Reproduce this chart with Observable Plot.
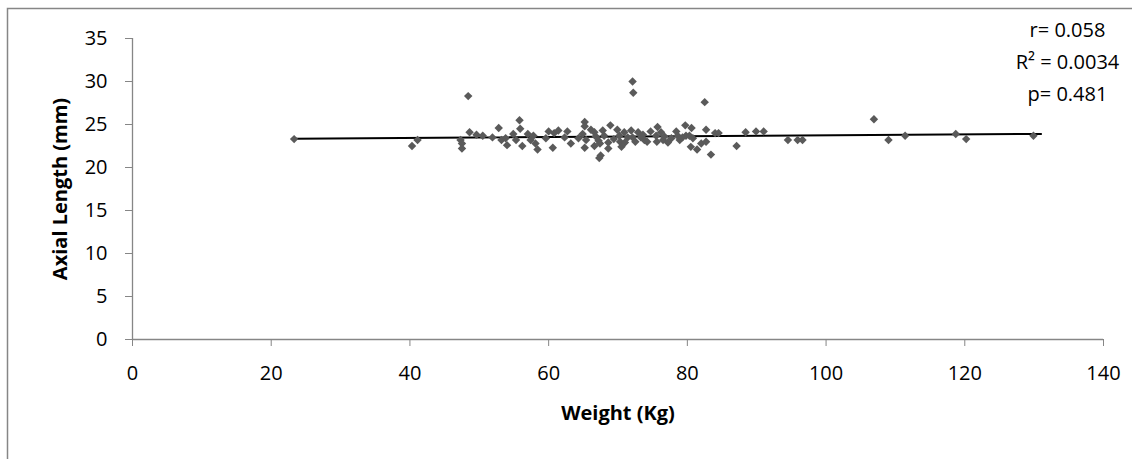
<!DOCTYPE html>
<html>
<head>
<meta charset="utf-8">
<script src="https://cdn.jsdelivr.net/npm/d3@7"></script>
<script src="https://cdn.jsdelivr.net/npm/@observablehq/plot@0.6"></script>
<style>
  html, body { margin: 0; padding: 0; background: #fff; }
  #chart { position: relative; width: 1132px; height: 459px; overflow: hidden; }
</style>
</head>
<body>
<div id="chart"></div>
<script>
// Weight (Kg) and Axial Length (mm)
const weight = [
  23.3, 40.3, 41.1, 47.3, 47.5, 47.5, 48.4, 48.6, 49.6, 51.9,
  52.8, 53.2, 54.0, 54.9, 55.3, 55.8, 55.9, 56.2, 57.4, 57.8,
  58.1, 58.4, 59.6, 60.0, 60.6, 60.8, 61.4, 62.3, 62.7, 63.2,
  65.2, 65.2, 64.9, 65.4, 65.2, 66.1, 66.6, 66.8, 67.2, 66.6,
  67.4, 67.5, 67.3, 67.8, 68.0, 68.6, 68.6, 68.9, 69.9, 70.2,
  70.3, 70.5, 70.9, 71.4, 71.9, 72.1, 72.2, 72.1, 72.5, 72.9,
  73.3, 73.8, 74.2, 74.7, 75.5, 75.7, 75.6, 76.2, 76.5, 76.7,
  77.7, 78.4, 78.6, 78.9, 79.7, 79.8, 80.6, 80.3, 80.5, 80.8,
  81.4, 82.0, 82.5, 82.7, 82.7, 83.4, 84.0, 84.5, 87.1, 88.4,
  89.9, 91.0, 94.5, 95.9, 96.6, 106.9, 109.0, 111.4, 118.7, 120.2,
  129.9, 64.3, 69.4, 71.0, 73.6, 77.2, 79.3, 57.0, 53.8, 50.5
];
const axial = [
  23.3, 22.5, 23.2, 23.2, 22.8, 22.2, 28.3, 24.1, 23.8, 23.5,
  24.6, 23.2, 22.6, 23.9, 23.2, 25.5, 24.5, 22.5, 23.2, 23.7,
  22.8, 22.1, 23.4, 24.2, 22.3, 24.0, 24.3, 23.5, 24.2, 22.8,
  25.3, 24.8, 23.9, 23.2, 22.3, 24.4, 24.1, 23.6, 23.1, 22.5,
  22.8, 21.4, 21.1, 24.3, 23.7, 22.9, 22.2, 24.9, 24.4, 23.7,
  23.0, 22.4, 24.1, 23.5, 24.3, 30.0, 28.7, 23.5, 23.0, 24.1,
  23.5, 23.2, 23.0, 24.2, 23.7, 24.7, 23.0, 24.1, 23.2, 23.6,
  23.4, 24.2, 23.7, 23.2, 24.9, 23.7, 24.6, 23.7, 22.4, 23.4,
  22.1, 22.8, 27.6, 24.4, 23.0, 21.5, 24.0, 24.0, 22.5, 24.1,
  24.2, 24.2, 23.2, 23.2, 23.2, 25.6, 23.2, 23.7, 23.9, 23.3,
  23.7, 23.4, 23.3, 22.9, 23.8, 22.9, 23.5, 23.9, 23.4, 23.7
];
// Trend line end points (fitted line as shown in the reference)
const trendX = [23.3, 131.0];
const trendY = [23.35, 23.9];
const xTicks = [0, 20, 40, 60, 80, 100, 120, 140];
const yTicks = [0, 5, 10, 15, 20, 25, 30, 35];
const statLabels = ["r= 0.058", "R\u00B2 = 0.0034", "p= 0.481"];

const points = weight.map((w, i) => ({w, a: axial[i]}));
const trend = trendX.map((x, i) => ({x, y: trendY[i]}));

const font = "'Open Sans', 'Noto Sans', sans-serif";
const axisColor = "#868686";
const fs = 20;

const plot = Plot.plot({
  width: 1132,
  height: 459,
  marginLeft: 132,
  marginRight: 29,
  marginTop: 38,
  marginBottom: 120,
  style: { fontFamily: font, fontSize: fs + "px", color: "#000", background: "#fff", overflow: "visible" },
  x: { domain: [0, 140], ticks: xTicks, label: null },
  y: { domain: [0, 35], ticks: yTicks, label: null },
  marks: [
    Plot.ruleY([0], { stroke: axisColor, strokeWidth: 1.3 }),
    Plot.ruleX([0], { stroke: axisColor, strokeWidth: 1.3 }),
    Plot.axisX({ ticks: xTicks, tickSize: 7, tickPadding: 19, stroke: axisColor, fill: "#000", fontSize: fs, label: null, tickFormat: d => String(d) }),
    Plot.axisY({ ticks: yTicks, tickSize: 7, tickPadding: 18, stroke: axisColor, fill: "#000", fontSize: fs, label: null, tickFormat: d => String(d) }),
    Plot.text(["Weight (Kg)"], { frameAnchor: "bottom", dy: 80, fontWeight: "bold", fontSize: fs, fill: "#000" }),
    Plot.text(["Axial Length (mm)"], { frameAnchor: "left", dx: -72, rotate: -90, textAnchor: "middle", fontWeight: "bold", fontSize: fs, fill: "#000" }),
    Plot.line(trend, { x: "x", y: "y", stroke: "#000", strokeWidth: 2 }),
    Plot.dot(points, { x: "w", y: "a", symbol: "diamond2", r: 3.8, fill: "#5a5a5a", stroke: "none" }),
    Plot.text([statLabels.join("\n")], { frameAnchor: "top-right", dx: -36, dy: -24, lineAnchor: "top", textAnchor: "middle", lineHeight: 1.6, fontSize: fs, fill: "#000" })
  ]
});
document.getElementById("chart").appendChild(plot);
// outer chart-area border (left and top visible, others run off the canvas)
d3.select(plot).append("rect")
  .attr("x", 7.5).attr("y", 8.5)
  .attr("width", 1140).attr("height", 470)
  .attr("fill", "none").attr("stroke", "#868686").attr("stroke-width", 1.5);
</script>
</body>
</html>
